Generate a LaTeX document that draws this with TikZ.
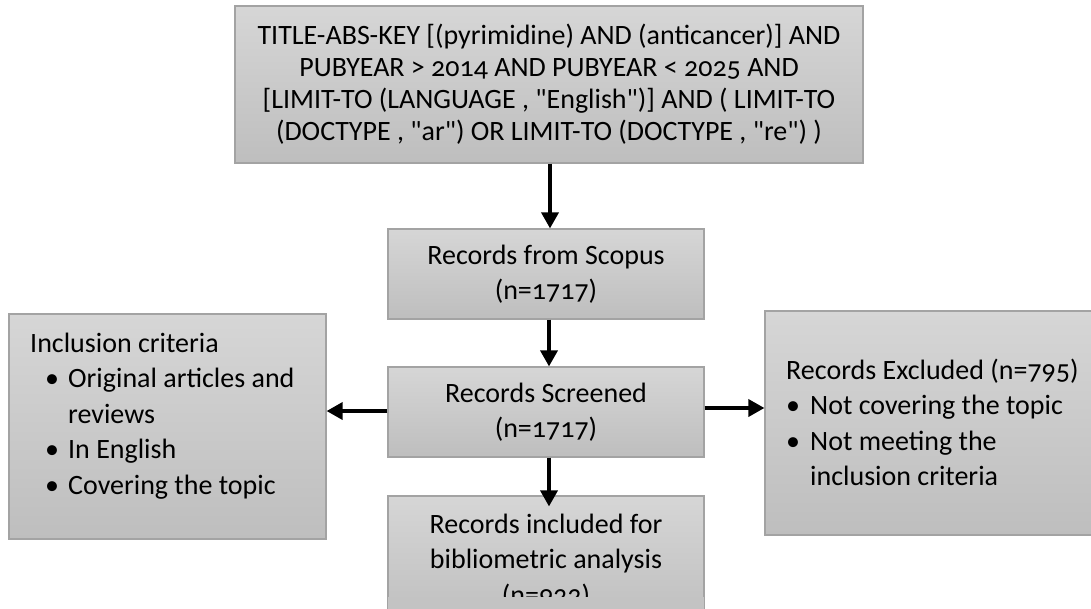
\documentclass[tikz,border=0pt]{standalone}
\usepackage{fontspec}
\setmainfont{Carlito}[Numbers=OldStyle]
\newfontfamily\plainfont{Carlito}[Numbers=OldStyle,Ligatures=TeXOff]
\usetikzlibrary{arrows.meta,calc}
\definecolor{boxtop}{HTML}{D6D6D6}
\definecolor{boxbot}{HTML}{BEBEBE}
\definecolor{boxline}{HTML}{A3A3A3}
\tikzset{
  box/.style={draw=boxline, line width=1.2pt, top color=boxtop, bottom color=boxbot, inner sep=0pt, align=center},
  arr/.style={line width=3.5pt, -{Triangle[width=17pt,length=16pt]}},
  bigtxt/.style={font=\fontsize{28}{35.5}\selectfont},
  toptxt/.style={font=\plainfont\fontsize{28}{32}\selectfont},
}
\newcommand{\bul}[1]{\makebox[#1][l]{\textbullet}}
\begin{document}
\begin{tikzpicture}[x=1pt,y=-1pt]
\useasboundingbox (0,0) rectangle (1091,608);
\clip (0,0) rectangle (1091,608);
\fill[white] (0,0) rectangle (1091,608);

\node[box, toptxt, minimum width=628pt, minimum height=157pt] (query) at (549,84.5)
  {TITLE-ABS-KEY [(pyrimidine) AND (anticancer)] AND\\
   PUBYEAR > 2014 AND PUBYEAR < 2025 AND\\
   {[}LIMIT-TO (LANGUAGE , "English")] AND ( LIMIT-TO\\
   (DOCTYPE , "ar") OR LIMIT-TO (DOCTYPE , "re") )};

\node[box, bigtxt, minimum width=316pt, minimum height=90pt] (scopus) at (546,274)
  {Records from Scopus\\(n=1717)};

\node[box, bigtxt, minimum width=316pt, minimum height=90pt] (screened) at (546,412)
  {Records Screened\\(n=1717)};

\node[box, bigtxt, minimum width=316pt, minimum height=130pt] (incl) at (546,561)
  {Records included for\\bibliometric analysis\\(n=922)};
\fill[boxtop!22!boxbot] ($(incl.north west)+(0.6,102)$) rectangle ($(incl.north east)+(-0.6,115)$);

\node[box, minimum width=317pt, minimum height=225pt] (crit) at (167.5,426.5) {};
\node[bigtxt, inner sep=0pt, anchor=base west] (crittxt) at (30,352)
  {\parbox[t]{290pt}{\raggedright
   Inclusion criteria\\
   \hspace*{15pt}\bul{23pt}Original articles and\\
   \hspace*{38pt}reviews\\
   \hspace*{15pt}\bul{23pt}In English\\
   \hspace*{15pt}\bul{23pt}Covering the topic}};

\node[box, minimum width=330pt, minimum height=224pt] (excl) at (930,423) {};
\node[bigtxt, inner sep=0pt, anchor=base west] (excltxt) at (786,379)
  {\parbox[t]{300pt}{\raggedright
   Records Excluded (n=795)\\
   \bul{24pt}Not covering the topic\\
   \bul{24pt}Not meeting the\\
   \hspace*{24pt}inclusion criteria}};

\draw[arr] ([xshift=1pt]query.south) -- ([xshift=1pt]query.south |- scopus.north);
\draw[arr] ([xshift=3pt]scopus.south) -- ([xshift=3pt]screened.north);
\draw[arr] ([xshift=3pt]screened.south) -- ([xshift=3pt,yshift=-11pt]incl.north);
\draw[arr] ([yshift=1pt]screened.west) -- ([yshift=1pt]screened.west -| crit.east);
\draw[arr] ([yshift=4pt]screened.east) -- ([yshift=4pt]screened.east -| excl.west);
\end{tikzpicture}
\end{document}
